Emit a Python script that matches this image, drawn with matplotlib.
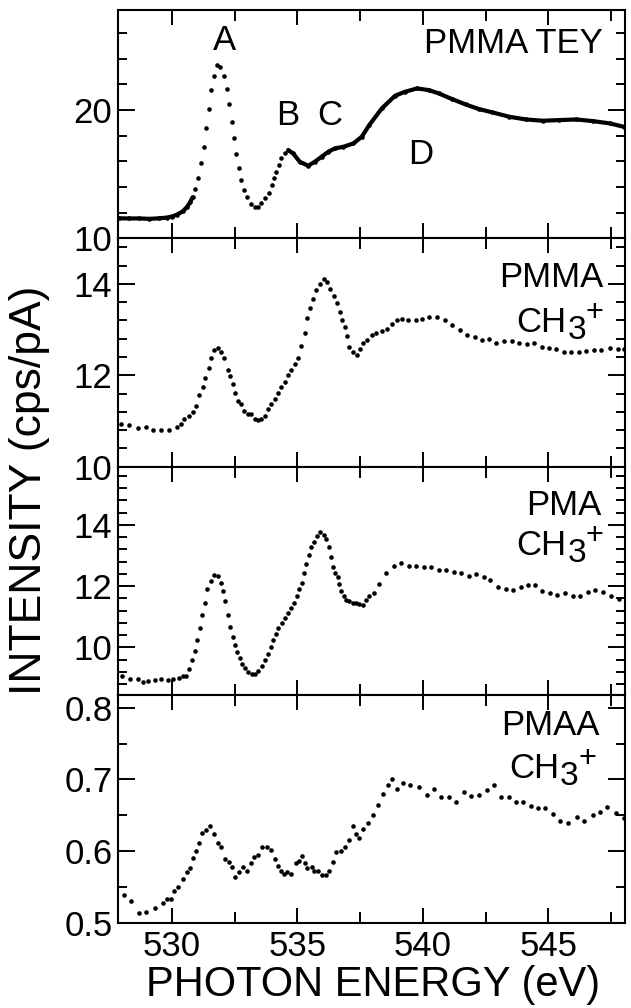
import numpy as np
import matplotlib.pyplot as plt
from matplotlib.ticker import MultipleLocator, FixedLocator

plt.rcParams['font.family'] = ['Liberation Sans', 'DejaVu Sans']

# PMMA, total electron yield
tey_e = [527.9, 528.3, 528.7, 529.1, 529.5, 529.8, 530.0, 530.2, 530.43, 530.6, 530.72, 530.82,
         530.93, 531.05, 531.16, 531.27, 531.36, 531.47, 531.57, 531.67, 531.79, 531.92,
         532.07, 532.19, 532.29, 532.39, 532.48, 532.57, 532.68, 532.77, 532.89, 533.0,
         533.13, 533.29, 533.43, 533.56, 533.72, 533.85, 533.97, 534.08, 534.16, 534.25,
         534.36, 534.49, 534.63,
         534.83, 535.09, 535.43, 535.69, 535.96, 536.23, 536.49, 536.83, 537.23, 537.56,
         537.85, 538.36, 538.89, 539.29, 539.76, 540.23, 540.63, 541.16, 541.7, 542.23,
         542.77, 543.44, 544.1, 544.77, 545.44, 546.11, 546.78, 547.45, 548.0]
tey_i = [11.56, 11.55, 11.55, 11.52, 11.56, 11.62, 11.7, 11.85, 12.1, 12.45, 12.8, 13.2,
         13.84, 14.68, 15.84, 17.09, 18.57, 20.05, 21.56, 22.65, 23.51, 23.38,
         22.65, 21.64, 20.44, 19.09, 17.84, 16.57, 15.51, 14.55, 13.77, 13.19,
         12.68, 12.42, 12.47, 12.73, 13.12, 13.56, 14.16, 14.73, 15.19, 15.71,
         16.23, 16.68, 16.88,
         16.62, 15.97, 15.66, 15.97, 16.36, 16.75, 17.01, 17.14, 17.4, 17.92,
         18.8, 20.13, 21.12, 21.43, 21.69, 21.56, 21.3, 20.86, 20.44, 20.08,
         19.82, 19.48, 19.27, 19.17, 19.22, 19.27, 19.14, 18.96, 18.7]

# PMMA, CH3+ ion yield
pmma_e = [527.97, 528.29, 528.63, 528.96, 529.25, 529.56, 529.87, 530.19, 530.36, 530.49,
          530.67, 530.83, 530.96, 531.09, 531.23, 531.33, 531.47, 531.56, 531.69, 531.83,
          531.96, 532.09, 532.23, 532.33, 532.43, 532.52, 532.63, 532.76, 532.89, 533.03,
          533.16, 533.29, 533.43, 533.56, 533.69, 533.83, 533.96, 534.09, 534.23, 534.36,
          534.49, 534.63, 534.76, 534.89, 535.03, 535.16, 535.29, 535.39, 535.49, 535.6,
          535.73, 535.89, 536.05, 536.16, 536.29, 536.45, 536.56, 536.69, 536.79, 536.89,
          536.96, 537.05, 537.2, 537.36, 537.49, 537.63, 537.79, 537.96, 538.11, 538.37,
          538.57, 538.77, 538.97, 539.17, 539.41, 539.71, 539.97, 540.24, 540.57, 540.88,
          541.17, 541.47, 541.77, 542.08, 542.37, 542.64, 542.93, 543.24, 543.55, 543.84,
          544.13, 544.44, 544.73, 545.04, 545.31, 545.6, 545.91, 546.21, 546.51, 546.8,
          547.11, 547.44, 547.77, 548.0]
pmma_i = [10.93, 10.90, 10.85, 10.87, 10.81, 10.79, 10.79, 10.87, 10.93, 11.04,
          11.10, 11.19, 11.33, 11.56, 11.74, 11.93, 12.16, 12.37, 12.56, 12.59,
          12.52, 12.37, 12.11, 11.98, 11.81, 11.61, 11.44, 11.37, 11.22, 11.16,
          11.15, 11.04, 11.01, 11.04, 11.11, 11.26, 11.37, 11.48, 11.61, 11.74,
          11.85, 12.0, 12.11, 12.24, 12.37, 12.64, 12.93, 13.26, 13.48, 13.67,
          13.87, 14.0, 14.11, 14.04, 13.89, 13.74, 13.59, 13.39, 13.22, 13.05,
          12.85, 12.63, 12.52, 12.44, 12.57, 12.70, 12.78, 12.89, 12.93, 12.98,
          13.02, 13.13, 13.20, 13.23, 13.20, 13.22, 13.24, 13.27, 13.28, 13.22,
          13.11, 13.0, 12.89, 12.83, 12.78, 12.80, 12.71, 12.75, 12.74, 12.70,
          12.69, 12.71, 12.63, 12.60, 12.58, 12.50, 12.50, 12.52, 12.54, 12.55,
          12.55, 12.59, 12.58, 12.57]

# PMA, CH3+ ion yield
pma_e = [528.0, 528.31, 528.64, 528.84, 529.04, 529.31, 529.57, 529.84, 530.04, 530.27,
         530.44, 530.57, 530.68, 530.8, 530.91, 531.01, 531.12, 531.21, 531.31, 531.41,
         531.55, 531.68, 531.84, 531.95, 532.04, 532.13, 532.24, 532.33, 532.44, 532.53,
         532.61, 532.71, 532.8, 532.91, 533.04, 533.17, 533.31, 533.44, 533.57, 533.71,
         533.84, 533.95, 534.04, 534.13, 534.24, 534.37, 534.51, 534.64, 534.75, 534.85,
         534.97, 535.08, 535.17, 535.27, 535.35, 535.44, 535.55, 535.64, 535.77, 535.91,
         536.04, 536.13, 536.24, 536.33, 536.41, 536.51, 536.6, 536.67, 536.75, 536.84,
         536.93, 537.07, 537.2, 537.33, 537.47, 537.6, 537.73, 537.87, 538.04, 538.23,
         538.52, 538.83, 539.13, 539.43, 539.72, 540.03, 540.33, 540.63, 540.92, 541.23,
         541.53, 541.83, 542.12, 542.43, 542.69, 543.0, 543.29, 543.59, 543.89, 544.19,
         544.47, 544.76, 545.05, 545.36, 545.67, 545.96, 546.27, 546.56, 546.87, 547.16,
         547.49, 547.83]
pma_i = [9.07, 8.96, 8.96, 8.87, 8.91, 8.94, 8.96, 8.94, 8.96, 8.99,
         9.05, 9.07, 9.29, 9.60, 9.87, 10.23, 10.64, 11.06, 11.45, 11.89,
         12.17, 12.36, 12.33, 12.11, 11.83, 11.52, 11.06, 10.65, 10.34, 10.09,
         9.85, 9.65, 9.46, 9.31, 9.20, 9.13, 9.13, 9.24, 9.40, 9.59,
         9.79, 10.01, 10.23, 10.45, 10.64, 10.78, 10.95, 11.12, 11.28, 11.45,
         11.67, 11.89, 12.11, 12.44, 12.72, 13.02, 13.27, 13.44, 13.62, 13.77,
         13.66, 13.55, 13.27, 12.96, 12.63, 12.44, 12.28, 12.06, 11.83, 11.67,
         11.56, 11.50, 11.45, 11.45, 11.41, 11.37, 11.56, 11.67, 11.78, 12.08,
         12.44, 12.66, 12.74, 12.66, 12.66, 12.63, 12.61, 12.53, 12.52, 12.46,
         12.41, 12.33, 12.39, 12.28, 12.19, 11.98, 11.89, 11.86, 11.98, 12.02,
         12.02, 11.83, 11.78, 11.72, 11.76, 11.69, 11.67, 11.80, 11.87, 11.80,
         11.67, 11.58]

# PMAA, CH3+ ion yield
pmaa_e = [528.07, 528.38, 528.69, 528.98, 529.32, 529.63, 529.79, 529.95, 530.09, 530.25,
          530.43, 530.59, 530.72, 530.83, 530.95, 531.07, 531.19, 531.36, 531.52, 531.66,
          531.82, 531.95, 532.13, 532.26, 532.39, 532.53, 532.66, 532.83, 532.99, 533.13,
          533.26, 533.42, 533.6, 533.8, 533.96, 534.09, 534.22, 534.33, 534.47, 534.6,
          534.73, 534.93, 535.07, 535.2, 535.29, 535.4, 535.56, 535.67, 535.83, 535.96,
          536.14, 536.27, 536.4, 536.54, 536.74, 536.9, 537.07, 537.21, 537.34, 537.47,
          537.61, 537.81, 538.02, 538.22, 538.42, 538.62, 538.78, 538.96, 539.22, 539.49,
          539.85, 540.16, 540.43, 540.7, 541.03, 541.33, 541.63, 541.9, 542.24, 542.57,
          542.84, 543.11, 543.41, 543.71, 544.0, 544.31, 544.58, 544.85, 545.18, 545.48,
          545.78, 546.12, 546.41, 546.76, 547.05, 547.35, 547.7, 548.0]
pmaa_i = [0.539, 0.530, 0.514, 0.516, 0.521, 0.528, 0.534, 0.533, 0.544, 0.550,
          0.562, 0.571, 0.576, 0.590, 0.601, 0.612, 0.625, 0.629, 0.635, 0.624,
          0.612, 0.606, 0.589, 0.585, 0.578, 0.564, 0.571, 0.578, 0.573, 0.583,
          0.592, 0.595, 0.606, 0.606, 0.602, 0.589, 0.580, 0.573, 0.569, 0.571,
          0.569, 0.583, 0.587, 0.594, 0.583, 0.576, 0.578, 0.573, 0.573, 0.567,
          0.567, 0.573, 0.585, 0.599, 0.601, 0.606, 0.615, 0.635, 0.624, 0.619,
          0.631, 0.640, 0.650, 0.664, 0.680, 0.692, 0.700, 0.687, 0.695, 0.692,
          0.689, 0.678, 0.687, 0.675, 0.676, 0.669, 0.683, 0.677, 0.678, 0.686,
          0.692, 0.675, 0.676, 0.669, 0.668, 0.663, 0.660, 0.660, 0.652, 0.642,
          0.639, 0.648, 0.642, 0.651, 0.655, 0.662, 0.653, 0.646]

x_major = [530, 535, 540, 545]

fig, axs = plt.subplots(4, 1, sharex=True, figsize=(6.31, 10.08), dpi=100)
fig.subplots_adjust(left=0.187, right=0.9905, top=0.990, bottom=0.0843, hspace=0)

ms = 3.3
fs = 25

# top panel: dense parts of the scan look like a solid line
e = np.array(tey_e)
i = np.array(tey_i)
solid = np.where((e > 530.85) & (e < 534.6), np.nan, i)
axs[0].plot(e, solid, '-', color='k', lw=3, solid_capstyle='round')
axs[0].plot(e, i, 'o', color='k', ms=ms, mec='none')
axs[1].plot(pmma_e, pmma_i, 'o', color='k', ms=ms, mec='none')
axs[2].plot(pma_e, pma_i, 'o', color='k', ms=ms, mec='none')
axs[3].plot(pmaa_e, pmaa_i, 'o', color='k', ms=ms, mec='none')

ylims = [(10, 27.8), (10, 15), (8.45, 15.9), (0.5, 0.818)]
ymaj = [[10, 20], [10, 12, 14], [10, 12, 14], [0.5, 0.6, 0.7, 0.8]]
ymin = [2, 0.4, 0.4, 0.05]
for ax, yl, yt, ym in zip(axs, ylims, ymaj, ymin):
    ax.set_xlim(527.85, 548.05)
    ax.set_ylim(*yl)
    ax.yaxis.set_major_locator(FixedLocator(yt))
    ax.yaxis.set_minor_locator(MultipleLocator(ym))
    ax.xaxis.set_major_locator(FixedLocator(x_major))
    ax.xaxis.set_minor_locator(MultipleLocator(2.5))
    ax.tick_params(which='both', direction='in', top=True, right=True,
                   width=1.4, labelsize=fs, pad=4)
    ax.tick_params(axis='y', which='major', length=12)
    ax.tick_params(axis='y', which='minor', length=6.5)
    ax.tick_params(axis='x', which='major', length=11)
    ax.tick_params(axis='x', which='minor', length=8)
    for sp in ax.spines.values():
        sp.set_linewidth(1.5)
axs[3].tick_params(axis='x', pad=5)

# peak labels
axs[0].text(532.1, 24.7, 'A', fontsize=fs, ha='center', va='baseline')
axs[0].text(534.6, 18.8, 'B', fontsize=fs, ha='center', va='baseline')
axs[0].text(536.3, 18.8, 'C', fontsize=fs, ha='center', va='baseline')
axs[0].text(539.9, 15.8, 'D', fontsize=fs, ha='center', va='baseline')


def ch3(ax, x, y):
    # CH3+ with near full-size sub/superscript, x = left edge, y = baseline
    kw = dict(xycoords='axes fraction', textcoords='offset points', va='baseline', ha='left')
    ax.annotate('CH', (x, y), xytext=(0, 0), fontsize=fs, **kw)
    ax.annotate('3', (x, y), xytext=(36.5, -5), fontsize=fs - 1, **kw)
    ax.annotate('+', (x, y), xytext=(50, 8), fontsize=fs - 3, **kw)


tr = [ax.transAxes for ax in axs]
axs[0].text(0.957, 0.81, 'PMMA TEY', fontsize=fs, ha='right', va='baseline', transform=tr[0])
axs[1].text(0.957, 0.788, 'PMMA', fontsize=fs, ha='right', va='baseline', transform=tr[1])
ch3(axs[1], 0.786, 0.591)
axs[2].text(0.953, 0.788, 'PMA', fontsize=fs, ha='right', va='baseline', transform=tr[2])
ch3(axs[2], 0.786, 0.612)
axs[3].text(0.950, 0.824, 'PMAA', fontsize=fs, ha='right', va='baseline', transform=tr[3])
ch3(axs[3], 0.772, 0.634)

fig.text(0.591, 0.012, 'PHOTON ENERGY (eV)', fontsize=30, ha='center', va='baseline')
fig.text(0.047, 0.514, 'INTENSITY (cps/pA)', fontsize=32, ha='center', va='center', rotation=90)

fig.savefig('out.png', dpi=100)
